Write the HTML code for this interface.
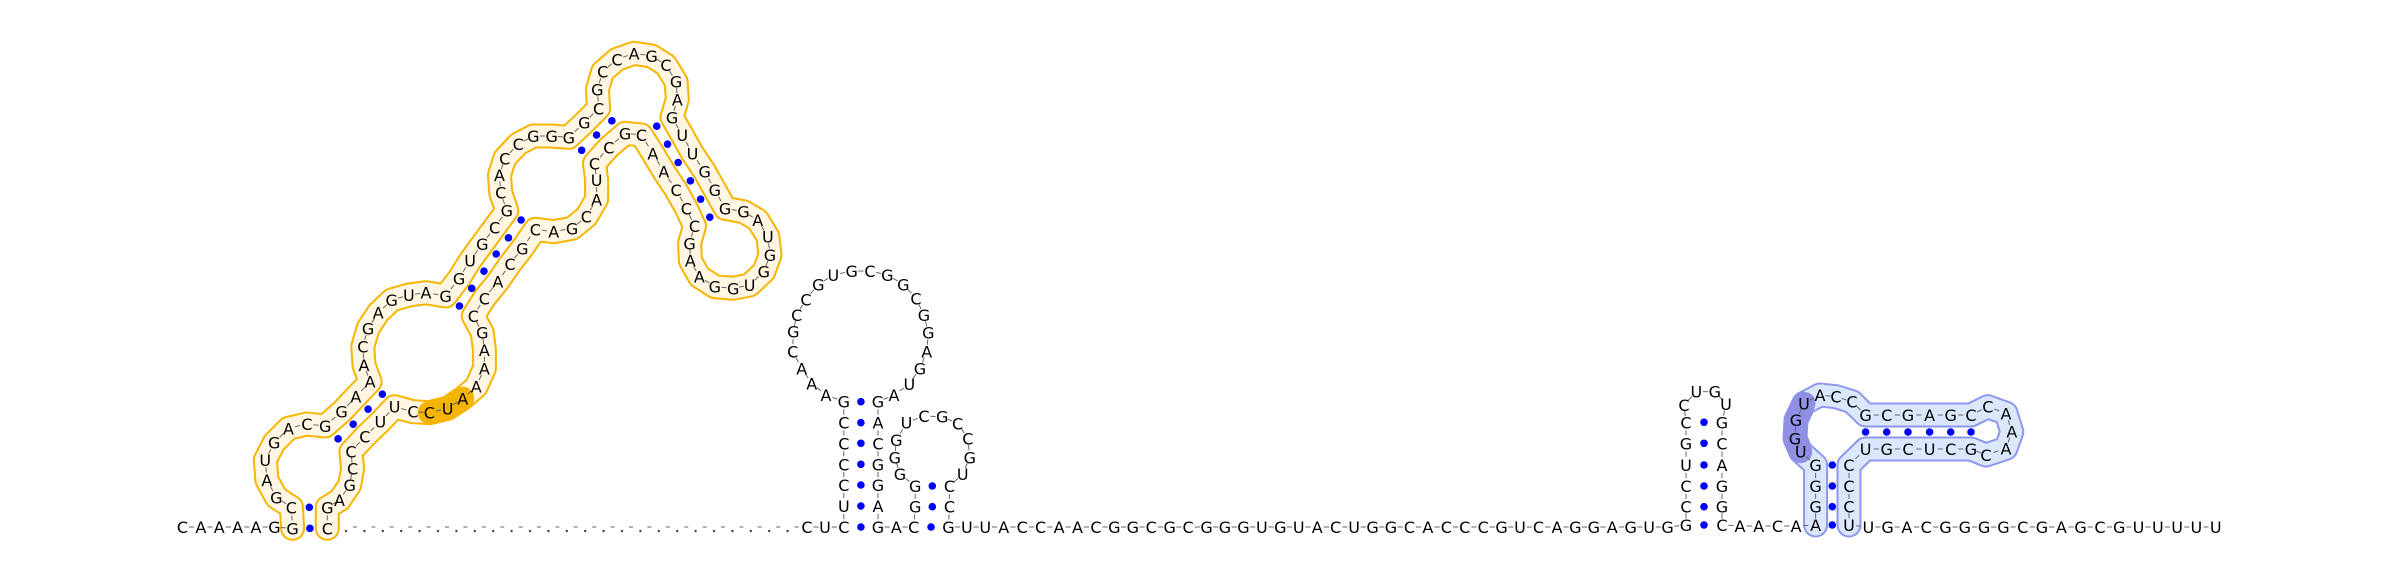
<!DOCTYPE html>
<html><head><meta charset="utf-8"><style>
html,body{margin:0;padding:0;background:#fff;}
svg{display:block;}
text{font-family:"DejaVu Sans","Liberation Sans",sans-serif;font-size:16px;fill:#000;}
</style></head><body>
<svg id="rna" width="2400" height="579" viewBox="0 0 2400 579" xmlns="http://www.w3.org/2000/svg">
<g id="tubes"></g>
<g id="links"></g>
<g id="dots"></g>
<g id="letters"></g>
</svg>
<script>
const NS="http://www.w3.org/2000/svg";
const orangeSeq="GCGAUGACGGAAACGAGUAGGUGCGCACCGGGGCGCCAGCGAGUUGGGGAUGGUGGAAGCCCAACGCCUACGACGCACCGAAAAUCCUUCCCGAGC";
const orangeX=[325,322,285,262,258,280,315,360,405,445,480,515,500,497,510,535,568,610,652,700,733,760,790,820,850,835,832,845,878,915,960,1002,1040,1075,1072,1085,1120,1162,1205,1240,1265,1268,1255,1280,1305,1335,1360,1385,1430,1465,1490,1495,1480,1445,1405,1360,1322,1300,1298,1310,1290,1265,1235,1208,1180,1140,1100,1065,1070,1070,1045,1010,965,920,888,858,828,795,768,790,795,795,775,742,705,660,620,575,540,502,468,472,465,440,410,410];
const orangeY=[1525,1462,1432,1380,1320,1268,1225,1212,1218,1175,1130,1085,1035,980,925,878,840,825,818,828,775,722,672,622,572,518,465,415,372,348,348,352,308,265,208,155,118,100,108,135,185,238,292,345,400,455,510,565,575,600,650,705,755,795,805,800,770,722,670,618,565,510,455,400,345,340,382,430,480,538,590,625,635,628,685,732,785,835,888,938,990,1045,1100,1135,1165,1178,1175,1160,1205,1250,1295,1345,1395,1440,1462,1525];
const orangePairs=[[0,95],[1,94],[8,90],[9,89],[10,88],[11,87],[19,78],[20,77],[21,76],[22,75],[23,74],[24,73],[31,67],[32,66],[33,65],[42,64],[43,63],[44,62],[45,61],[46,60],[47,59]];
const loopSeq="AAACGCCGUGCGGCGGAGUA";
const loopX=[168,125,95,68,70,80,108,145,190,245,300,352,400,438,462,475,470,450,418,372];
const loopY=[465,430,385,335,275,225,178,133,105,93,93,105,133,175,225,278,335,385,432,465];
const smallLoopSeq="GGGUCGCCGU";
const smallLoopX=[899.9,894.8,896.3,906.5,923.9,942.2,957.6,967.8,969.8,962.7];
const smallLoopY=[474,457.3,440,422.7,416,416.7,423.3,438.3,457.3,474];
const midSeq="UUACCAACGGCGCGGGUGUACUGGCACCCGUCAGGAGUG";
const tailSeq="UGACGGGGCGAGCGUUUUU";

const nts=[];const pairs=[];const breaks=new Set();
function add(c,x,y){nts.push([c,x,y]);return nts.length-1;}
const BY=527;
"CAAAAG".split("").forEach((c,i)=>add(c,182.4+i*18.4,BY));
const o0=nts.length;
for(let i=0;i<orangeSeq.length;i++) add(orangeSeq[i],160+orangeX[i]*0.408,20+orangeY[i]/3);
const o1=nts.length-1;
orangePairs.forEach(p=>pairs.push([o0+p[0],o0+p[1]]));
breaks.add(o1);
add("C",807,BY);add("U",825,BY);
const s1=add("C",843.8,BY);
const lcY=[506,485,464.3,443.3,422.7,401.7];
const lc=[];"UCCCCG".split("").forEach((c,i)=>lc.push(add(c,843.8,lcY[i])));
for(let i=0;i<loopSeq.length;i++) add(loopSeq[i],770+loopX[i]/3,240+loopY[i]/3);
const rc=[];"GACGGA".split("").forEach((c,i)=>rc.push(add(c,878,lcY[5-i])));
const s2=add("G",878,BY);
pairs.push([s1,s2]);for(let i=0;i<6;i++)pairs.push([lc[i],rc[5-i]]);
add("A",896.3,BY);
const t1=add("C",913.7,BY);
const ta=add("G",915.2,506.7),tb=add("G",915.2,486);
for(let i=0;i<smallLoopSeq.length;i++) add(smallLoopSeq[i],smallLoopX[i],smallLoopY[i]);
const tc=add("C",949.4,486),td=add("C",949.4,506.7);
const t2=add("G",948.4,BY);
pairs.push([t1,t2],[ta,td],[tb,tc]);
for(let i=0;i<midSeq.length;i++) add(midSeq[i],948.4+(i+1)*18.44,BY);
const hY=[525,506.7,486,465,443.3,422.3];
const hpl=[];"GCCUGC".split("").forEach((c,i)=>hpl.push(add(c,1686,hY[i])));
add("C",1684,405);add("U",1696.3,391.7);add("G",1714.8,391.7);add("U",1726,404);
const hpr=[];"GCAGGC".split("").forEach((c,i)=>hpr.push(add(c,1722,hY[5-i])));
for(let i=0;i<6;i++)pairs.push([hpl[i],hpr[5-i]]);
"AACA".split("").forEach((c,i)=>add(c,1740+i*18.7,BY-1));
const b0=nts.length;
const bY=[525,506.7,486,465];
const bl=[];"AGGG".split("").forEach((c,i)=>bl.push(add(c,1815.6,bY[i])));
const bh0=add("U",1800.7,451.7);add("G",1795,438.3);add("G",1796,420);const bh1=add("U",1804,403.3);
add("A",1820,395);add("C",1836,396.7);add("C",1852,401.7);
const rowX=[1865.6,1886.7,1908,1929.6,1950.7,1971];
const up=[];"GCGAGC".split("").forEach((c,i)=>up.push(add(c,rowX[i],415)));
add("C",1987.8,406.7);add("A",2006,413.3);add("A",2011.8,431.7);add("A",2006,448.3);add("C",1986,455);
const lo=[];"GCUCGU".split("").forEach((c,i)=>lo.push(add(c,rowX[5-i],449)));
const br=[];"CCCU".split("").forEach((c,i)=>br.push(add(c,1849,bY[3-i])));
const b1=nts.length-1;
for(let i=0;i<4;i++)pairs.push([bl[i],br[3-i]]);
for(let i=0;i<6;i++)pairs.push([up[i],lo[5-i]]);
for(let i=0;i<tailSeq.length;i++) add(tailSeq[i],1849+(i+1)*19.3,BY);

const tubes=document.getElementById("tubes");
function pathD(a,b){let d="";for(let i=a;i<=b;i++){d+=(i===a?"M":"L")+nts[i][1].toFixed(1)+" "+nts[i][2].toFixed(1)+" ";}return d;}
function tube(a,b,outer,inner){
  const d=pathD(a,b);
  [[outer,25],[inner,21]].forEach(s=>{const p=document.createElementNS(NS,"path");
    p.setAttribute("d",d);p.setAttribute("fill","none");p.setAttribute("stroke",s[0]);p.setAttribute("stroke-width",s[1]);
    p.setAttribute("stroke-linejoin","round");p.setAttribute("stroke-linecap","round");
    
    
    tubes.appendChild(p);});
}
function hiseg(a,b,col){
  const p=document.createElementNS(NS,"path");p.setAttribute("d",pathD(a,b));p.setAttribute("fill","none");p.setAttribute("stroke",col);
  p.setAttribute("stroke-width","23");p.setAttribute("stroke-linejoin","round");p.setAttribute("stroke-linecap","round");
  
  
  tubes.appendChild(p);}
tube(o0,o1,"#f7b500","#fff7e4");
hiseg(o0+83,o0+85,"#f5b400");
tube(b0,b1,"#8d97ee","#dbe8fc");
hiseg(bh0,bh1,"#8f8fe4");

const links=document.getElementById("links");
for(let i=0;i<nts.length-1;i++){ if(breaks.has(i))continue;
  const x1=nts[i][1],y1=nts[i][2],x2=nts[i+1][1],y2=nts[i+1][2];const mx=(x1+x2)/2,my=(y1+y2)/2;
  const dx=x2-x1,dy=y2-y1,L=Math.hypot(dx,dy)||1;const h=2.6;
  const l=document.createElementNS(NS,"line");
  l.setAttribute("x1",mx-dx/L*h);l.setAttribute("y1",my-dy/L*h);l.setAttribute("x2",mx+dx/L*h);l.setAttribute("y2",my+dy/L*h);
  l.setAttribute("stroke","#666");l.setAttribute("stroke-width","1");
  
  
  links.appendChild(l);}
for(let x=346;x<795;x+=18.4){
  const c=document.createElementNS(NS,"circle");c.setAttribute("cx",x);c.setAttribute("cy",BY+4);c.setAttribute("r","1.2");c.setAttribute("fill","#444");
  
  
  links.appendChild(c);
  const l=document.createElementNS(NS,"line");l.setAttribute("x1",x+7);l.setAttribute("x2",x+11);l.setAttribute("y1",BY);l.setAttribute("y2",BY);
  l.setAttribute("stroke","#666");l.setAttribute("stroke-width","1");
  
  
  links.appendChild(l);}
const dots=document.getElementById("dots");
pairs.forEach(p=>{const a=nts[p[0]],b=nts[p[1]];
  const c=document.createElementNS(NS,"circle");c.setAttribute("cx",(a[1]+b[1])/2);c.setAttribute("cy",(a[2]+b[2])/2);
  c.setAttribute("r","3.8");c.setAttribute("fill","#0000ff");
  
  
  dots.appendChild(c);});
const letters=document.getElementById("letters");
nts.forEach(n=>{const t=document.createElementNS(NS,"text");
  t.setAttribute("x",n[1]);t.setAttribute("y",n[2]+6);t.setAttribute("text-anchor","middle");t.textContent=n[0];
  
  
  letters.appendChild(t);});
</script>
</body></html>
